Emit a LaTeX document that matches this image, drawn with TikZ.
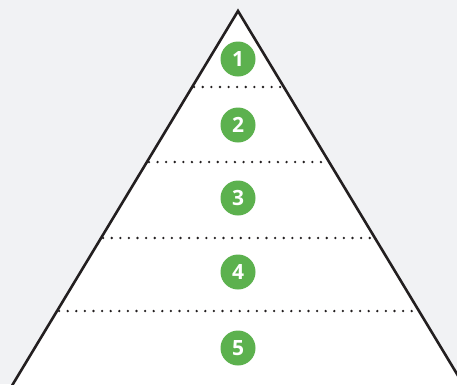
\documentclass[tikz,border=0pt]{standalone}
\usepackage{fontspec}
\setmainfont{Open Sans}
\begin{document}
\begin{tikzpicture}[x=1pt,y=-1pt,
  badge/.style={circle,fill=badgegreen,minimum size=35pt,inner sep=0pt,
    text=white,font=\bfseries\fontsize{21}{21}\selectfont},
  levelsep/.style={line width=2.6pt,line cap=round,draw=edgeblack,
    dash pattern=on 0pt off 8.6pt},
  outline/.style={line width=2.6pt,draw=edgeblack,line join=miter}]
\definecolor{bggray}{HTML}{F1F2F4}
\definecolor{badgegreen}{HTML}{5CB14E}
\definecolor{edgeblack}{HTML}{231F20}
\fill[bggray] (0,0) rectangle (457,384);
\useasboundingbox (0,0) rectangle (457,384);
\begin{scope}
\clip (0,0) rectangle (457,384);
% pyramid body
\coordinate (apex) at (238,11);
\coordinate (bl) at (0.9,404);
\coordinate (br) at (475.1,404);
\fill[white] (apex) -- (bl) -- (br) -- cycle;
% level separators
\foreach \y/\n in {87/a,162/b,238/c,311/d}{
  \coordinate (l\n) at ({238-0.603*(\y-11)+2},\y);
  \coordinate (r\n) at ({238+0.603*(\y-11)-1},\y);
  \draw[levelsep] (l\n) -- (r\n);
}
\draw[outline] (bl) -- (apex) -- (br);
\end{scope}
% level badges
\node[badge] (n1) at (238,59) {1};
\node[badge] (n2) at (238,125) {2};
\node[badge] (n3) at (238,198) {3};
\node[badge] (n4) at (238,272) {4};
\node[badge] (n5) at (238,348) {5};
\end{tikzpicture}
\end{document}
